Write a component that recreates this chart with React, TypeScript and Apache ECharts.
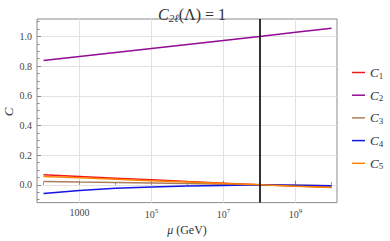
import React, { useEffect, useRef } from "react";
import * as echarts from "echarts";

const logMu = [2, 3, 4, 5, 6, 7, 8, 9, 10];
const c1 = [0.067, 0.056, 0.045, 0.034, 0.022, 0.011, 0, -0.008, -0.016];
const c2 = [0.838, 0.865, 0.892, 0.919, 0.946, 0.973, 1.0, 1.028, 1.056];
const c3 = [0.023, 0.019, 0.016, 0.012, 0.008, 0.004, 0, -0.003, -0.006];
const c4 = [-0.058, -0.038, -0.024, -0.014, -0.008, -0.004, 0, -0.003, -0.007];
const c5 = [0.056, 0.047, 0.038, 0.028, 0.019, 0.009, 0, -0.009, -0.018];

const seriesNames = ["C1", "C2", "C3", "C4", "C5"];
const seriesColors = ["#ee1a1a", "#940a94", "#a97e5c", "#1414e6", "#ff8300"];
const xMajor = [3, 5, 7, 9];
const xMinor = [2, 4, 6, 8, 10];
const yMajor = [0, 0.2, 0.4, 0.6, 0.8, 1.0];
const yMinor = [-0.1, -0.05, 0.05, 0.1, 0.15, 0.25, 0.3, 0.35, 0.45, 0.5, 0.55, 0.65, 0.7, 0.75, 0.85, 0.9, 0.95, 1.05, 1.1];
const lambdaLog = 8;

const SERIF = "'Liberation Serif', 'DejaVu Serif', serif";

export default function App() {
  const ref = useRef<HTMLDivElement>(null);
  useEffect(() => {
    if (!ref.current) return;
    const chart = echarts.init(ref.current, null, { renderer: "svg" });
    const all = [c1, c2, c3, c4, c5];
    const labelColor = "#444";
    chart.setOption({
      animation: false,
      backgroundColor: "#fff",
      title: {
        text: "{i|C}{s|2ℓ}{n|(Λ) = 1}",
        left: 187,
        textAlign: "center",
        top: 0,
        textStyle: {
          fontWeight: "normal",
          rich: {
            i: { fontFamily: SERIF, fontStyle: "italic", fontWeight: "normal", fontSize: 16, color: "#333" },
            s: { fontFamily: SERIF, fontStyle: "italic", fontWeight: "normal", fontSize: 11, color: "#333", padding: [7, 0, 0, 0] },
            n: { fontFamily: SERIF, fontWeight: "normal", fontSize: 16, color: "#333" },
          },
        },
      },
      graphic: [
        {
          type: "text",
          x: 8,
          y: 112,
          rotation: Math.PI / 2,
          style: {
            text: "C",
            fontFamily: SERIF,
            fontStyle: "italic",
            fontSize: 13,
            fill: "#333",
            align: "center",
            verticalAlign: "middle",
          },
        },
      ],
      legend: {
        orient: "vertical",
        left: 347,
        top: 61,
        itemWidth: 13,
        itemHeight: 1.5,
        itemGap: 8.7,
        icon: "rect",
        data: seriesNames,
        formatter: (n: string) => "{i|C}{s|" + n.slice(1) + "}",
        textStyle: {
          rich: {
            i: { fontFamily: SERIF, fontStyle: "italic", fontSize: 13, color: "#333" },
            s: { fontFamily: SERIF, fontSize: 9, color: "#333", padding: [6, 0, 0, 0] },
          },
        },
      },
      grid: {
        left: 37,
        right: 53,
        top: 19,
        bottom: 36,
        show: true,
        borderColor: "#8a8a8a",
        borderWidth: 1,
        backgroundColor: "transparent",
      },
      xAxis: [
        {
          type: "value",
          min: 1.82,
          max: 10.15,
          name: "{i|μ} (GeV)",
          nameLocation: "middle",
          nameGap: 20,
          nameTextStyle: {
            fontFamily: SERIF,
            fontSize: 12,
            color: "#333",
            rich: { i: { fontFamily: SERIF, fontStyle: "italic", fontSize: 12, color: "#333" } },
          },
          axisLine: { show: false },
          axisTick: { show: true, inside: true, length: 4, customValues: xMajor, lineStyle: { color: "#8a8a8a" } },
          axisLabel: {
            customValues: xMajor,
            margin: 5,
            formatter: (v: number) => (v === 3 ? "{b|1000}" : "{b|10}{e|" + v + "}"),
            rich: {
              b: { fontFamily: SERIF, fontSize: 10, color: labelColor },
              e: { fontFamily: SERIF, fontSize: 7, color: labelColor, padding: [0, 0, 6, 0] },
            },
          },
          splitLine: { show: true, lineStyle: { color: "#e2e2e2", width: 1 } },
        },
        {
          type: "value",
          min: 1.82,
          max: 10.15,
          position: "bottom",
          axisLine: { show: false },
          axisLabel: { show: false },
          splitLine: { show: false },
          axisTick: { show: true, inside: true, length: 2.5, customValues: xMinor, lineStyle: { color: "#8a8a8a" } },
        },
      ],
      yAxis: [
        {
          type: "value",
          min: -0.12,
          max: 1.118,
          axisLine: { show: false },
          axisTick: { show: true, inside: true, length: 4, customValues: yMajor, lineStyle: { color: "#8a8a8a" } },
          axisLabel: {
            customValues: yMajor,
            margin: 5,
            fontFamily: SERIF,
            fontSize: 10,
            color: labelColor,
            formatter: (v: number) => v.toFixed(1),
          },
          splitLine: { show: true, lineStyle: { color: "#e2e2e2", width: 1 } },
        },
        {
          type: "value",
          min: -0.12,
          max: 1.118,
          position: "left",
          axisLine: { show: false },
          axisLabel: { show: false },
          splitLine: { show: false },
          axisTick: { show: true, inside: true, length: 2.5, customValues: yMinor, lineStyle: { color: "#8a8a8a" } },
        },
      ],
      series: seriesNames.map((name, k) => ({
        name,
        type: "line",
        xAxisIndex: 0,
        yAxisIndex: 0,
        data: logMu.map((x, i) => [x, all[k][i]]),
        showSymbol: false,
        symbol: "none",
        lineStyle: { color: seriesColors[k], width: 1.5 },
        itemStyle: { color: seriesColors[k] },
        markLine:
          k === 4
            ? {
                silent: true,
                symbol: "none",
                label: { show: false },
                lineStyle: { color: "#000", width: 1.6, type: "solid" },
                data: [{ xAxis: lambdaLog }],
              }
            : undefined,
      })),
    });
    return () => chart.dispose();
  }, []);
  return <div ref={ref} style={{ width: 390, height: 241, position: "absolute", left: 0, top: 0 }} />;
}
